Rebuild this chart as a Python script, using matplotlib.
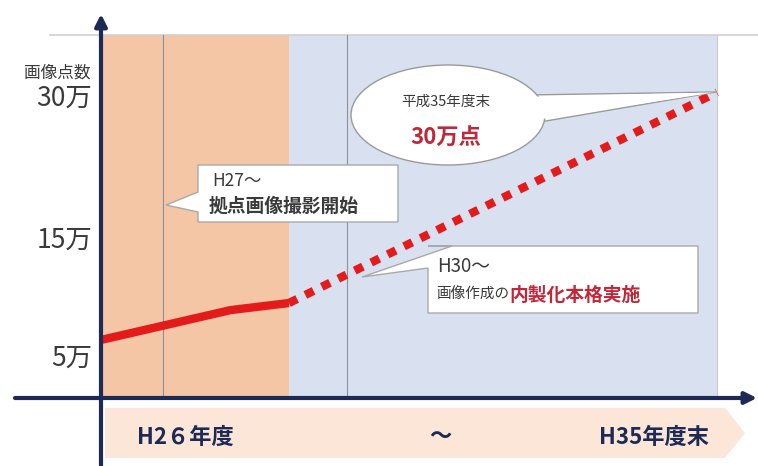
import matplotlib
matplotlib.use('Agg')
import matplotlib.pyplot as plt
from matplotlib.patches import Polygon, Rectangle, Ellipse

plt.rcParams['font.family'] = ['Noto Sans CJK JP', 'DejaVu Sans']

# data (x: 平成の年度, y: 万点 ; schematic chart)
actual_years = [26, 28.1, 29.05]
actual_pts = [4.45, 7.6, 8.35]
plan_years = [29.05, 36]
plan_pts = [8.35, 30.6]
phase_edges = [26, 29.05, 36]
phase_colors = ['#f4c6a6', '#d9e1f1']
guide_years = [27, 30]
ytick_vals = [2.5, 15, 30]
ytick_labels = ['5万', '15万', '30万']
band_labels = ['H2６年度', '～', 'H35年度末']

NAVY = '#1c2a55'
RED = '#e31b1b'
DARKRED = '#c0283a'
TXT = '#3a3a3a'

fig = plt.figure(figsize=(7.58, 4.66), dpi=100)
ax = fig.add_axes([0, 0, 1, 1])
# pixel-to-data layout: year 26 at x=101px, 61.6 px per year; 30万 at y=98px, 9.47 px per 万
XS, YS = 61.6, 9.47


def P(xp, yp):
    return 26 + (xp - 101) / XS, 30 - (yp - 98) / YS


x0, y1 = P(0, 0)
x1, y0 = P(758, 466)
ax.set_xlim(x0, x1)
ax.set_ylim(y0, y1)
ax.axis('off')

top = P(0, 35)[1]
base = P(0, 398)[1]

# phase backgrounds
for i in range(len(phase_colors)):
    ax.add_patch(Rectangle((phase_edges[i], base), phase_edges[i + 1] - phase_edges[i],
                           top - base, facecolor=phase_colors[i], edgecolor='none', zorder=0))
ax.plot([phase_edges[-1], phase_edges[-1]], [base, top], color='#c8cbd6', lw=0.8, zorder=1)
ax.plot([P(50, 0)[0], x1], [top, top], color='#cfcfcf', lw=1.2, zorder=1)
for g in guide_years:
    ax.plot([g, g], [base, top], color='#8d909c', lw=0.8, zorder=1)

# bottom band (arrow shaped)
bx0, by0 = P(105, 458)
bx1, by1 = P(725, 408)
btip = P(745, 433)
ax.add_patch(Polygon([(bx0, by0), (bx1, by0), btip, (bx1, by1), (bx0, by1)],
                     closed=True, facecolor='#fbe6d8', edgecolor='none', zorder=1))
for xp, lab in zip([185, 440, 654], band_labels):
    xx, yy = P(xp, 437)
    ax.text(xx, yy, lab, ha='center', va='center', fontsize=16, fontweight='bold',
            color=NAVY, zorder=5)

# axes arrows
ax.annotate('', xy=P(101, 14), xytext=P(101, 466),
            arrowprops=dict(arrowstyle='-|>,head_length=0.7,head_width=0.35', lw=3,
                            color=NAVY, shrinkA=0, shrinkB=0), zorder=6)
ax.annotate('', xy=P(757, 398), xytext=P(15, 398),
            arrowprops=dict(arrowstyle='-|>,head_length=0.7,head_width=0.35', lw=3,
                            color=NAVY, shrinkA=0, shrinkB=0), zorder=6)

# y labels
for v, lab in zip(ytick_vals, ytick_labels):
    ax.text(P(92, 0)[0], v, lab, ha='right', va='center', fontsize=19, color=TXT)
ax.text(*P(91, 73), '画像点数', ha='right', va='center', fontsize=12, color=TXT)

# lines
ax.plot(actual_years, actual_pts, color=RED, lw=6, solid_capstyle='butt', zorder=4)
ax.plot(plan_years, plan_pts, color=RED, lw=6, linestyle=(0, (1.1, 1.1)),
        dash_capstyle='butt', zorder=4)

# callout 1 (H27)
c1 = [P(198, 165), P(398, 165), P(398, 222), P(198, 222), P(198, 212), P(166, 205), P(198, 192)]
ax.add_patch(Polygon(c1, closed=True, facecolor='white', edgecolor='#a9a9a9', lw=1, zorder=7))
ax.text(*P(212, 181), 'H27～', fontsize=12.5, color=TXT, va='center', zorder=8)
ax.text(*P(209, 206), '拠点画像撮影開始', fontsize=13.5, fontweight='bold', color=TXT,
        va='center', zorder=8)

# callout 2 (ellipse)
ex, ey = P(448, 115)
ax.add_patch(Ellipse((ex, ey), 194 / XS, 100 / YS, facecolor='white', edgecolor='#9a9a9a',
                     lw=1, zorder=7))
ax.add_patch(Polygon([P(525, 95), P(716, 92), P(540, 122)], closed=True,
                     facecolor='white', edgecolor='#9a9a9a', lw=1, zorder=6.5))
ax.add_patch(Polygon([P(520, 97), P(714, 92.5), P(535, 120)], closed=True,
                     facecolor='white', edgecolor='none', zorder=7.5))
ax.text(*P(446, 102), '平成35年度末', fontsize=10.5, color=TXT, ha='center', va='center', zorder=8)
ax.text(*P(446, 138), '30万点', fontsize=16, fontweight='bold', color=DARKRED,
        ha='center', va='center', zorder=8)

# callout 3 (H30)
c3 = [P(428, 246), P(698, 246), P(698, 313), P(428, 313), P(428, 268), P(362, 277), P(452, 246)]
ax.add_patch(Polygon(c3, closed=True, facecolor='white', edgecolor='#a9a9a9', lw=1, zorder=7))
ax.text(*P(437, 267), 'H30～', fontsize=13.5, color=TXT, va='center', zorder=8)
t = ax.text(*P(436, 295), '画像作成の', fontsize=10.5, color=TXT, va='center', zorder=8)
ax.annotate('内製化本格実施', xycoords=t, xy=(1, 0.5), va='center', ha='left',
            fontsize=13.5, fontweight='bold', color=DARKRED, zorder=8)

fig.savefig('out.png', dpi=100)
